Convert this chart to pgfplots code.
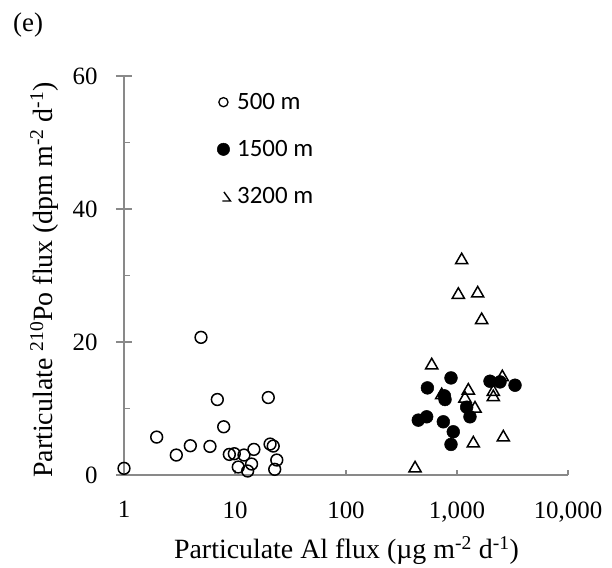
\documentclass[border=0pt]{standalone}
\usepackage{fontspec}
\setmainfont{Liberation Serif}
\newfontfamily\carlito{Carlito}
\usepackage{pgfplots}
\pgfplotsset{compat=1.18}
\definecolor{axgray}{HTML}{898989}

\pgfplotstableread{
x y
1 1.0
1.97 5.7
2.96 3.0
3.96 4.4
4.94 20.7
5.95 4.3
6.93 11.35
7.91 7.25
8.89 3.1
9.86 3.2
10.7 1.2
12.05 3.0
13.0 0.6
14.1 1.65
14.8 3.85
19.95 11.65
20.7 4.65
22.1 4.35
22.8 0.85
23.8 2.25
}\depthA

\pgfplotstableread{
x y
448 8.25
533 8.75
541 13.1
753 8.0
780 11.35
770 11.9
883 14.6
883 4.6
926 6.5
1222 10.2
1309 8.75
1983 14.1
2440 14.0
3333 13.5
}\depthB

\pgfplotstableread{
x y
419 1.0
592 16.5
728 12.0
1102 32.3
1028 27.1
1536 27.3
1668 23.3
1265 12.7
1180 11.5
1452 10.0
2124 12.5
2124 11.7
2560 14.7
1403 4.75
2614 5.65
}\depthC

\begin{document}
\begin{tikzpicture}
\path[use as bounding box] (0,0) rectangle (612bp,568bp);
\node[anchor=base west, inner sep=0pt, font=\fontsize{27}{32}\selectfont] at (13bp,536.5bp) {(e)};
\begin{axis}[
  at={(124bp,93bp)}, anchor=south west,
  scale only axis, width=444bp, height=399bp,
  xmode=log, xmin=1, xmax=10000, ymin=0, ymax=60,
  axis x line*=bottom, axis y line*=left,
  axis line style={axgray, line width=1.3bp, -},
  xtick={1,10,100,1000,10000},
  xticklabels={1,10,100,{1,000},{10,000}},
  xminorticks=false,
  ytick={0,20,40,60}, minor ytick={10,30,50},
  tick align=inside,
  major tick length=5bp, minor tick length=6bp,
  tick style={axgray, line width=1.3bp},
  /pgf/number format/assume math mode=true,
  tick label style={font=\fontsize{25}{30}\selectfont},
  xticklabel style={yshift=-23bp},
  yticklabel style={xshift=-23bp},
  xlabel={Particulate Al flux (µg m\textsuperscript{-2} d\textsuperscript{-1})},
  ylabel={Particulate \textsuperscript{210}Po flux (dpm m\textsuperscript{-2} d\textsuperscript{-1})},
  label style={font=\fontsize{28}{33}\selectfont},
  xlabel style={at={(axis description cs:0.501,-0.209)}, anchor=base},
  ylabel style={at={(axis description cs:-0.162,0.489)}, anchor=base},
  clip=false,
  legend style={draw=none, fill=none, at={(axis description cs:0.209,0.962)}, anchor=north west,
    font=\carlito\fontsize{25}{30}\selectfont, row sep=25.5bp, inner sep=0pt,
    /tikz/every odd column/.append style={column sep=4bp}},
  legend cell align=left,
]
\addplot[only marks, mark=o, mark size=5.9bp, black, line width=1.5bp,
  legend image code/.code={\path[draw=none, fill=none] (0bp,-6bp) rectangle (13bp,6bp);
    \draw[black, line width=1.3bp] (6bp,0bp) circle (4.6bp);}] table {\depthA};
\addlegendentry{500 m}
\addplot[only marks, mark=*, mark size=6.4bp, black, line width=0.5bp,
  legend image code/.code={\path[draw=none, fill=none] (0bp,-6bp) rectangle (13bp,6bp);
    \fill[black] (6bp,0bp) circle (6.2bp);}] table {\depthB};
\addlegendentry{1500 m}
\addplot[only marks, mark=triangle, mark size=7bp, black, line width=1.5bp,
  legend image code/.code={\path[draw=none, fill=none] (0bp,-6bp) rectangle (13bp,6bp);
    \draw[black, line width=1.4bp] (5bp,-4.5bp) -- (13bp,-4.5bp) -- (6.5bp,4.5bp);}] table {\depthC};
\addlegendentry{3200 m}
\draw[axgray, line width=1.3bp] ([xshift=-8bp]axis cs:1,0) -- ([xshift=8bp]axis cs:1,0);
\draw[axgray, line width=1.3bp] ([xshift=-8bp]axis cs:1,20) -- ([xshift=8bp]axis cs:1,20);
\draw[axgray, line width=1.3bp] ([xshift=-8bp]axis cs:1,40) -- ([xshift=8bp]axis cs:1,40);
\draw[axgray, line width=1.3bp] ([xshift=-8bp]axis cs:1,60) -- ([xshift=8bp]axis cs:1,60);
\end{axis}
\end{tikzpicture}
\end{document}
